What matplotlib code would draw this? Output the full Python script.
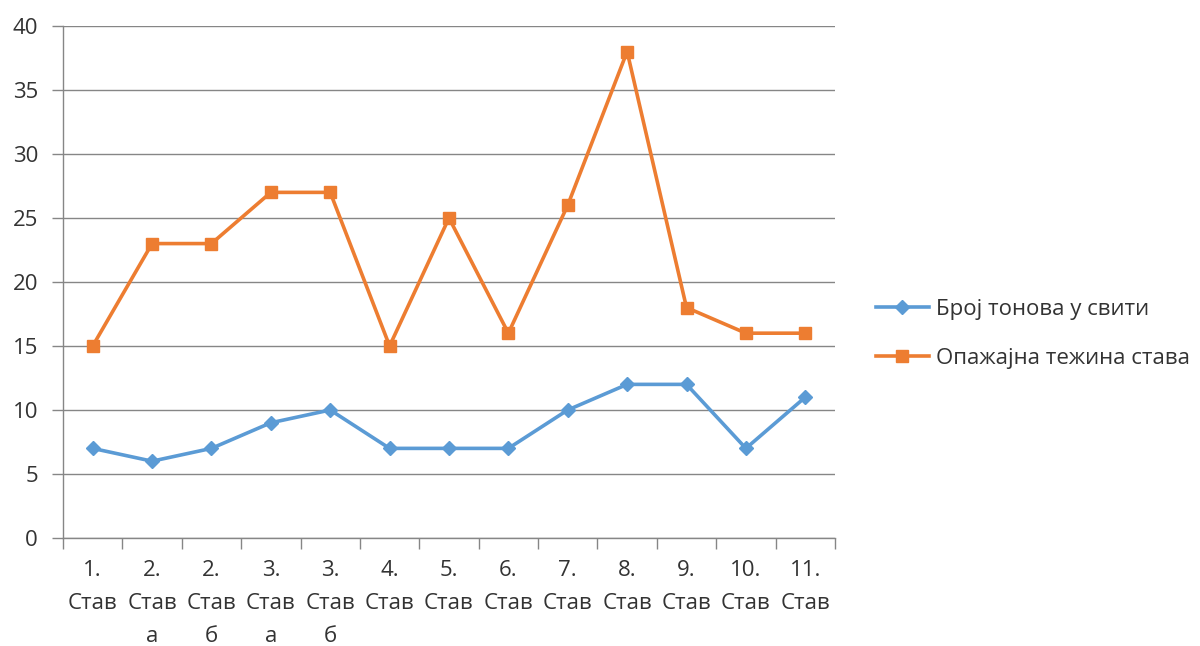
import matplotlib
matplotlib.use("Agg")
import matplotlib.pyplot as plt
import numpy as np

categories = ["1.\nСтав", "2.\nСтав\nа", "2.\nСтав\nб", "3.\nСтав\nа", "3.\nСтав\nб",
              "4.\nСтав", "5.\nСтав", "6.\nСтав", "7.\nСтав", "8.\nСтав",
              "9.\nСтав", "10.\nСтав", "11.\nСтав"]
tones = [7, 6, 7, 9, 10, 7, 7, 7, 10, 12, 12, 7, 11]
difficulty = [15, 23, 23, 27, 27, 15, 25, 16, 26, 38, 18, 16, 16]
series_names = ["Број тонова у свити", "Опажајна тежина става"]
y_ticks = [0, 5, 10, 15, 20, 25, 30, 35, 40]

plt.rcParams['font.family'] = ['Open Sans', 'DejaVu Sans']
grid_col = "#868686"
text_col = "#333333"

fig = plt.figure(figsize=(12, 6.46), dpi=100)
ax = fig.add_axes([0.0525, 0.1672, 0.6433, 0.7926])

x = np.arange(len(categories))
l1, = ax.plot(x, tones, color="#5B9BD5", lw=2.6, marker="D", ms=7, label=series_names[0], zorder=3)
l2, = ax.plot(x, difficulty, color="#ED7D31", lw=2.6, marker="s", ms=8.5, label=series_names[1], zorder=3)

ax.set_xlim(-0.5, len(categories) - 0.5)
ax.set_ylim(0, 40)
ax.set_yticks(y_ticks)
ax.yaxis.grid(True, color=grid_col, lw=1)
ax.set_axisbelow(True)

ax.set_xticks(x)
ax.set_xticklabels(categories, linespacing=1.75, fontsize=16, color=text_col)
ax.set_xticks(np.arange(-0.5, len(categories), 1), minor=True)
ax.tick_params(axis="x", which="major", length=0, pad=16)
ax.tick_params(axis="x", which="minor", length=8, color=grid_col, width=1)
ax.tick_params(axis="y", length=8, color=grid_col, width=1, labelsize=16, labelcolor=text_col, pad=10)

for s in ["top", "right"]:
    ax.spines[s].set_visible(False)
for s in ["left", "bottom"]:
    ax.spines[s].set_color(grid_col)
    ax.spines[s].set_linewidth(1)

fig.legend(handles=[l1, l2], loc="center left", bbox_to_anchor=(0.713, 0.483),
           frameon=False, fontsize=16, labelspacing=1.25, handlelength=2.4,
           handletextpad=0.3, labelcolor=text_col)

fig.savefig("out.png", dpi=100)
